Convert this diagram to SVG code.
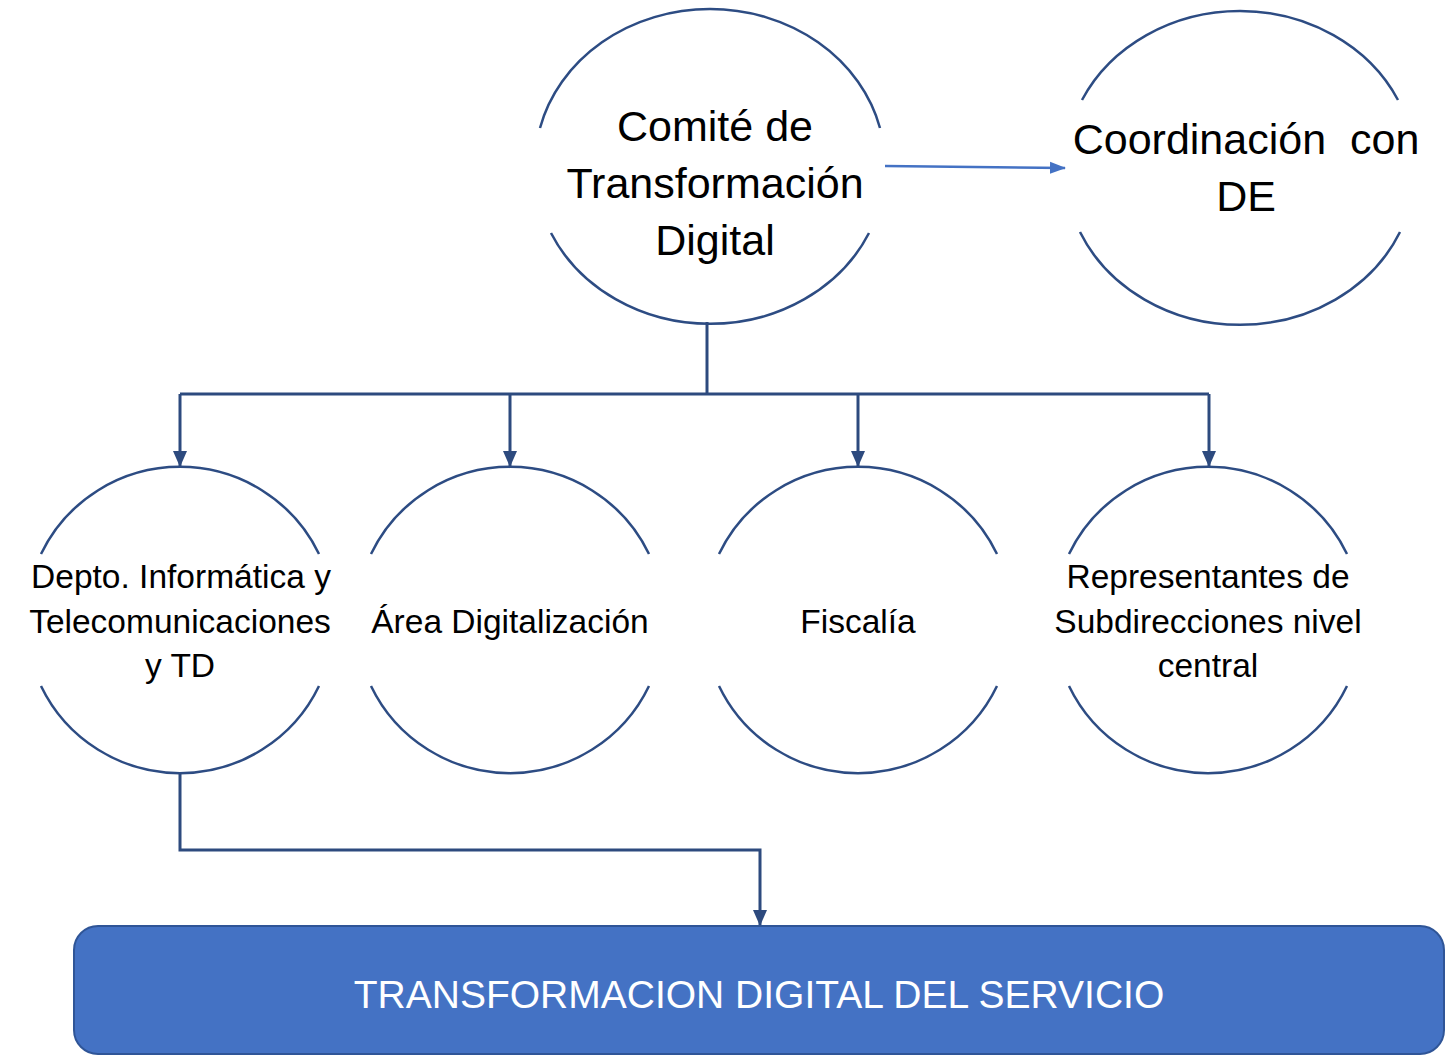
<svg xmlns="http://www.w3.org/2000/svg" width="1446" height="1056" viewBox="0 0 1446 1056">
<style>
.arc{fill:none;stroke:#2D4C83;stroke-width:2.5}
.t{font-family:"Liberation Sans",Arial,sans-serif;fill:#000;text-anchor:middle}
.big{font-size:43px}
.sm{font-size:33.5px}
.con{fill:none;stroke:#2D4A7E;stroke-width:3}
</style>
<defs>
<marker id="ah" markerUnits="userSpaceOnUse" markerWidth="16" markerHeight="16" viewBox="0 0 16 16" refX="15" refY="8" orient="auto">
<path d="M0,1 L16,8 L0,15 Z" fill="#2D4A7E"/>
</marker>
<marker id="ahb" markerUnits="userSpaceOnUse" markerWidth="16" markerHeight="16" viewBox="0 0 16 16" refX="15" refY="8" orient="auto">
<path d="M0,2 L16,8 L0,14 Z" fill="#4472C4"/>
</marker>
</defs>
<rect width="1446" height="1056" fill="#fff"/>

<g id="comite">
<path class="arc" d="M540,128 A175,156 0 0 1 880,128"/>
<path class="arc" d="M551,233 A175,156 0 0 0 869,233"/>
<text class="t big" x="715" y="141">Comité de</text>
<text class="t big" x="715" y="198">Transformación</text>
<text class="t big" x="715" y="255">Digital</text>
</g>

<g id="coordinacion">
<path class="arc" d="M1082,100 A175,156 0 0 1 1398,100"/>
<path class="arc" d="M1080,232 A175,156 0 0 0 1400,232"/>
<text class="t big" x="1246" y="154" xml:space="preserve">Coordinación  con</text>
<text class="t big" x="1246" y="211">DE</text>
</g>

<g id="depto">
<path class="arc" d="M41,554 A154,153 0 0 1 319,554"/>
<path class="arc" d="M41,686 A154,153 0 0 0 319,686"/>
<text class="t sm" x="181" y="588">Depto. Informática y</text>
<text class="t sm" x="180" y="633">Telecomunicaciones</text>
<text class="t sm" x="180" y="677">y TD</text>
</g>

<g id="area">
<path class="arc" d="M371,554 A154,153 0 0 1 649,554"/>
<path class="arc" d="M371,686 A154,153 0 0 0 649,686"/>
<text class="t sm" x="510" y="633">Área Digitalización</text>
</g>

<g id="fiscalia">
<path class="arc" d="M719,554 A154,153 0 0 1 997,554"/>
<path class="arc" d="M719,686 A154,153 0 0 0 997,686"/>
<text class="t sm" x="858" y="633">Fiscalía</text>
</g>

<g id="representantes">
<path class="arc" d="M1069,554 A154,153 0 0 1 1347,554"/>
<path class="arc" d="M1069,686 A154,153 0 0 0 1347,686"/>
<text class="t sm" x="1208" y="588">Representantes de</text>
<text class="t sm" x="1208" y="633">Subdirecciones nivel</text>
<text class="t sm" x="1208" y="677">central</text>
</g>

<g id="servicio">
<rect x="74" y="926" width="1370" height="128" rx="24" ry="24" fill="#4472C4" stroke="#2F5597" stroke-width="2"/>
<text x="759" y="1008" font-family="'Liberation Sans',Arial,sans-serif" font-size="39" fill="#fff" text-anchor="middle">TRANSFORMACION DIGITAL DEL SERVICIO</text>
</g>

<g id="connectors">
<path class="con" d="M707,322 V394"/>
<path class="con" d="M180,394 H1209"/>
<path class="con" d="M180,394 V466" marker-end="url(#ah)"/>
<path class="con" d="M510,394 V466" marker-end="url(#ah)"/>
<path class="con" d="M858,394 V466" marker-end="url(#ah)"/>
<path class="con" d="M1209,394 V466" marker-end="url(#ah)"/>
<path class="con" d="M180,773 V850 H760 V925" marker-end="url(#ah)"/>
<path d="M885,166 L1065,168" fill="none" stroke="#4472C4" stroke-width="2.5" marker-end="url(#ahb)"/>
</g>
</svg>
